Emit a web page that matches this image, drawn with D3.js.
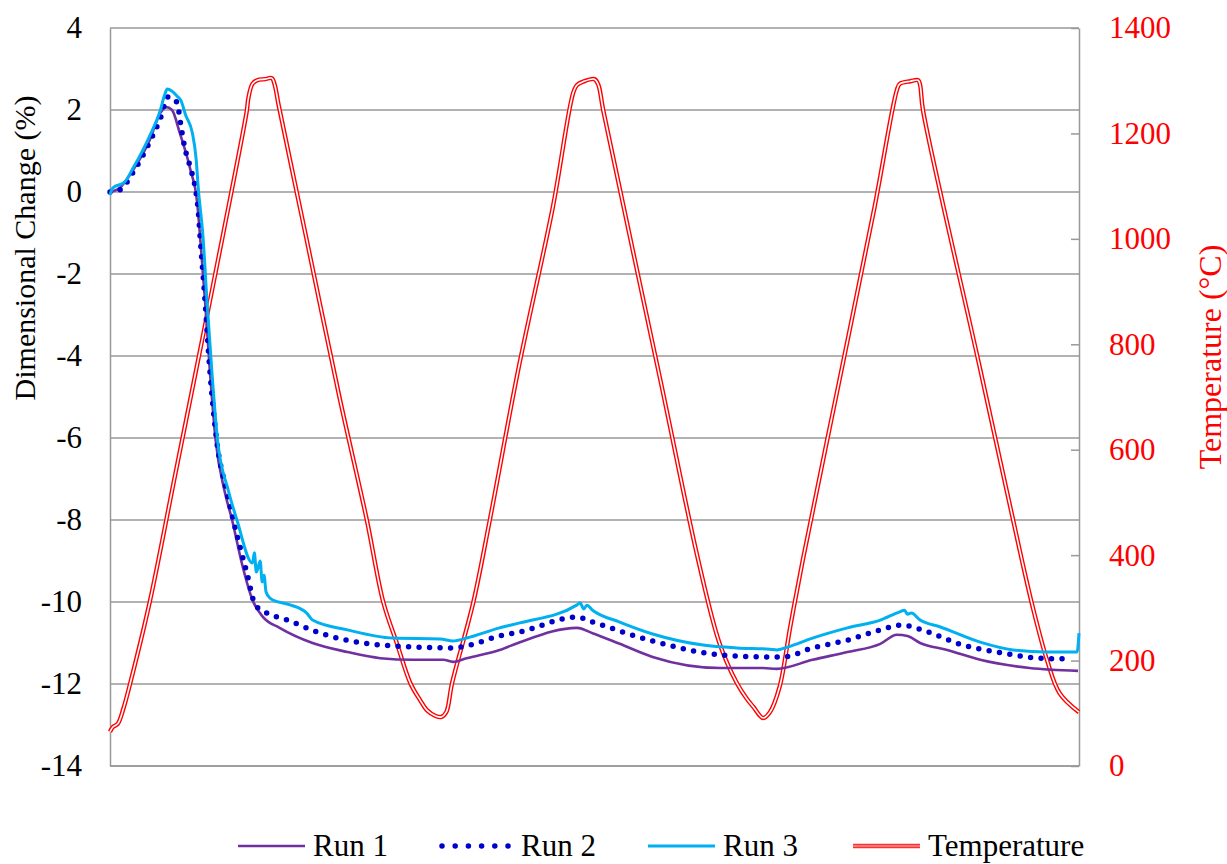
<!DOCTYPE html>
<html>
<head>
<meta charset="utf-8">
<script src="https://cdn.jsdelivr.net/npm/d3@7"></script>
<style>
  body { margin: 0; background: #fff; }
  svg { display: block; font-family: "Liberation Serif", "Times New Roman", serif; }
</style>
</head>
<body>
<svg id="chart"></svg>
<script>
// data: time as % of test duration, dimensional change in %, temperature in °C
const run1Time = [0, 1.0, 2.4, 4.1, 5.2, 5.8, 6.4, 7.2, 8.3, 9.0, 9.3, 9.8, 10.3, 10.9, 11.8, 12.6, 13.6, 14.7, 15.8, 17.5, 20.9, 24.5, 27.9, 31.3, 34.4, 35.4, 36.8, 40.2, 42.3, 48.2, 49.8, 52.6, 56.0, 63.0, 67.4, 68.8, 72.5, 76.1, 79.5, 81.2, 82.3, 83.6, 86.4, 89.8, 94.9, 99.9];
const run1Value = [0.0, 0.10, 0.54, 1.27, 1.93, 2.07, 2.0, 1.44, 0.54, -0.27, -1.10, -2.63, -4.34, -6.05, -7.27, -8.0, -9.05, -9.95, -10.37, -10.63, -11.0, -11.22, -11.37, -11.41, -11.41, -11.46, -11.37, -11.17, -10.98, -10.63, -10.76, -11.02, -11.34, -11.61, -11.61, -11.63, -11.41, -11.22, -11.02, -10.80, -10.83, -11.0, -11.17, -11.41, -11.61, -11.68];

const run2Time = [0, 1.0, 2.4, 4.1, 5.2, 6.0, 6.6, 7.0, 7.2, 7.7, 8.3, 8.8, 9.1, 9.3, 9.8, 10.3, 11.0, 12.0, 12.9, 14.1, 15.0, 16.2, 18.3, 21.7, 26.1, 31.8, 35.4, 36.8, 40.2, 42.3, 48.2, 49.8, 56.0, 63.0, 68.1, 69.5, 72.5, 76.1, 79.5, 81.7, 83.8, 88.0, 91.5, 96.0, 99.1];
const run2Value = [0.0, 0.05, 0.49, 1.22, 1.80, 2.32, 2.27, 2.12, 1.80, 1.10, 0.59, 0.10, -0.44, -1.10, -2.63, -4.34, -6.05, -7.27, -8.17, -9.27, -10.07, -10.27, -10.44, -10.76, -11.0, -11.10, -11.12, -11.07, -10.83, -10.73, -10.37, -10.49, -10.95, -11.29, -11.34, -11.34, -11.12, -10.93, -10.68, -10.56, -10.68, -11.05, -11.22, -11.37, -11.39];

const run3Time = [0, 0.3, 1.5, 2.4, 4.1, 5.2, 5.6, 5.9, 6.4, 7.0, 7.3, 7.8, 8.5, 8.9, 9.1, 9.6, 10.0, 10.5, 11.1, 12.2, 13.1, 14.7, 14.9, 15.1, 15.5, 15.7, 15.9, 16.1, 16.5, 16.8, 18.6, 20.3, 20.9, 24.5, 29.2, 34.1, 35.4, 36.8, 40.2, 42.3, 48.2, 48.5, 48.9, 49.2, 49.8, 52.6, 56.0, 61.2, 64.7, 68.1, 68.8, 69.9, 72.5, 76.1, 79.5, 81.5, 82.0, 82.3, 82.7, 83.6, 85.7, 89.8, 93.2, 96.7, 99.8, 100];
const run3Value = [-0.07, 0.10, 0.24, 0.59, 1.37, 2.0, 2.34, 2.51, 2.46, 2.32, 2.24, 1.88, 1.44, 0.78, 0.12, -1.10, -2.63, -4.34, -6.05, -7.27, -8.0, -9.05, -8.80, -9.27, -9.00, -9.51, -9.35, -9.75, -9.90, -9.95, -10.07, -10.27, -10.44, -10.68, -10.88, -10.90, -10.95, -10.88, -10.63, -10.51, -10.07, -10.02, -10.17, -10.08, -10.20, -10.49, -10.78, -11.05, -11.12, -11.15, -11.17, -11.10, -10.88, -10.63, -10.44, -10.24, -10.20, -10.30, -10.27, -10.44, -10.61, -10.98, -11.17, -11.22, -11.22, -10.76];

const tempTime = [0, 0.3, 0.8, 1.4, 2.1, 4.1, 6.7, 9.3, 11.6, 14.1, 14.3, 14.7, 15.2, 16.0, 16.7, 17.0, 17.4, 20.3, 23.7, 26.5, 28.2, 29.6, 31.0, 32.0, 32.7, 33.6, 34.2, 34.7, 35.3, 37.5, 39.2, 42.2, 45.7, 47.8, 48.2, 48.8, 50.0, 50.4, 50.9, 56.8, 60.7, 62.9, 64.7, 65.7, 66.4, 67.4, 68.1, 69.1, 70.2, 71.5, 75.3, 78.9, 81.2, 81.5, 82.6, 83.4, 83.6, 83.9, 89.8, 94.1, 95.3, 96.7, 98.0, 100];
const tempValue = [65, 74, 80, 110, 158, 311, 550, 789, 1002, 1241, 1269, 1294, 1301, 1303, 1305, 1292, 1254, 998, 698, 467, 311, 233, 157, 125, 106, 95, 93, 102, 157, 311, 467, 758, 1060, 1277, 1292, 1298, 1303, 1292, 1244, 732, 391, 233, 157, 128, 112, 91, 102, 150, 264, 391, 734, 1060, 1282, 1294, 1299, 1301, 1292, 1244, 753, 391, 296, 201, 138, 102];

const leftTicks = [4, 2, 0, -2, -4, -6, -8, -10, -12, -14];
const rightTicks = [0, 200, 400, 600, 800, 1000, 1200, 1400];
const legendNames = ["Run 1", "Run 2", "Run 3", "Temperature"];

const width = 1227, height = 864;
const margin = { top: 28, right: 148, bottom: 98, left: 110 };
const fontSize = 31;

const svg = d3.select("#chart").attr("width", width).attr("height", height);
svg.append("rect").attr("width", width).attr("height", height).attr("fill", "#fff");

const x = d3.scaleLinear().domain([0, 100]).range([margin.left, width - margin.right]);
const y = d3.scaleLinear().domain([-14, 4]).range([height - margin.bottom, margin.top]);
const y2 = d3.scaleLinear().domain([0, 1400]).range([height - margin.bottom, margin.top]);

const gridColor = "#999";

// gridlines
svg.append("g")
  .selectAll("line")
  .data(leftTicks)
  .join("line")
  .attr("x1", x(0)).attr("x2", x(100))
  .attr("y1", d => y(d)).attr("y2", d => y(d))
  .attr("stroke", gridColor).attr("stroke-width", 1.5);

// left axis
const leftAxis = svg.append("g")
  .attr("transform", "translate(" + x(0) + ",0)")
  .call(d3.axisLeft(y).tickValues(leftTicks).tickSize(0).tickPadding(28).tickFormat(d => String(d)));
leftAxis.select(".domain").attr("stroke", gridColor).attr("stroke-width", 1.5);
leftAxis.selectAll("text").attr("font-size", fontSize).attr("font-family", "Liberation Serif").attr("fill", "#000");

// right axis
const rightAxis = svg.append("g")
  .attr("transform", "translate(" + x(100) + ",0)")
  .call(d3.axisRight(y2).tickValues(rightTicks).tickSizeInner(-8).tickSizeOuter(0).tickPadding(30).tickFormat(d => String(d)));
rightAxis.select(".domain").attr("stroke", gridColor).attr("stroke-width", 1.5);
rightAxis.selectAll("line").attr("stroke", gridColor).attr("stroke-width", 1.5);
rightAxis.selectAll("text").attr("font-size", fontSize).attr("font-family", "Liberation Serif").attr("fill", "#ff0000");

// bottom line
svg.append("line")
  .attr("x1", x(0)).attr("x2", x(100))
  .attr("y1", y(-14)).attr("y2", y(-14))
  .attr("stroke", gridColor).attr("stroke-width", 1.5);

// axis titles
svg.append("text")
  .attr("transform", "translate(35,248) rotate(-90)")
  .attr("text-anchor", "middle")
  .attr("font-size", 30)
  .text("Dimensional Change (%)");

svg.append("text")
  .attr("transform", "translate(1221,357) rotate(-90)")
  .attr("text-anchor", "middle")
  .attr("font-size", 32)
  .attr("fill", "#ff0000")
  .text("Temperature (°C)");

// lines
const zip = (ts, vs) => ts.map((t, i) => ({ t: t, v: vs[i] }));
const lineL = d3.line().x(d => x(d.t)).y(d => y(d.v)).curve(d3.curveMonotoneX);
const lineR = d3.line().x(d => x(d.t)).y(d => y2(d.v)).curve(d3.curveCatmullRom.alpha(0.5));

const plot = svg.append("g");

// temperature: double line
plot.append("path").datum(zip(tempTime, tempValue))
  .attr("d", lineR).attr("fill", "none")
  .attr("stroke", "#ff0000").attr("stroke-width", 4.4).attr("stroke-linejoin", "round");
plot.append("path").datum(zip(tempTime, tempValue))
  .attr("d", lineR).attr("fill", "none")
  .attr("stroke", "#fff").attr("stroke-width", 1.6).attr("stroke-linejoin", "round");

plot.append("path").datum(zip(run1Time, run1Value))
  .attr("d", lineL).attr("fill", "none")
  .attr("stroke", "#7030a0").attr("stroke-width", 2.6).attr("stroke-linejoin", "round");

plot.append("path").datum(zip(run2Time, run2Value))
  .attr("d", lineL).attr("fill", "none")
  .attr("stroke", "#0000cc").attr("stroke-width", 5.5)
  .attr("stroke-linecap", "round").attr("stroke-dasharray", "0 10.5");

plot.append("path").datum(zip(run3Time, run3Value))
  .attr("d", lineL).attr("fill", "none")
  .attr("stroke", "#00b0f0").attr("stroke-width", 3).attr("stroke-linejoin", "round");

// legend
const legendX = [238, 440, 648, 853];
const legendY = 846;
const legend = svg.append("g");
legendNames.forEach((name, i) => {
  const g = legend.append("g").attr("transform", "translate(" + legendX[i] + "," + legendY + ")");
  if (i === 0) {
    g.append("line").attr("x1", 0).attr("x2", 67).attr("stroke", "#7030a0").attr("stroke-width", 2.6);
  } else if (i === 1) {
    g.append("line").attr("x1", 2).attr("x2", 70).attr("stroke", "#0000cc").attr("stroke-width", 5.5)
      .attr("stroke-linecap", "round").attr("stroke-dasharray", "0 13.2");
  } else if (i === 2) {
    g.append("line").attr("x1", 0).attr("x2", 67).attr("stroke", "#00b0f0").attr("stroke-width", 3);
  } else {
    g.append("line").attr("x1", 0).attr("x2", 67).attr("stroke", "#ff3030").attr("stroke-width", 4.4);
    g.append("line").attr("x1", 0).attr("x2", 67).attr("stroke", "#ff9090").attr("stroke-width", 1.6);
  }
  g.append("text")
    .attr("x", i === 1 ? 81 : 75)
    .attr("y", 0)
    .attr("dy", "0.33em")
    .attr("font-size", fontSize)
    .text(name);
});
</script>
</body>
</html>
